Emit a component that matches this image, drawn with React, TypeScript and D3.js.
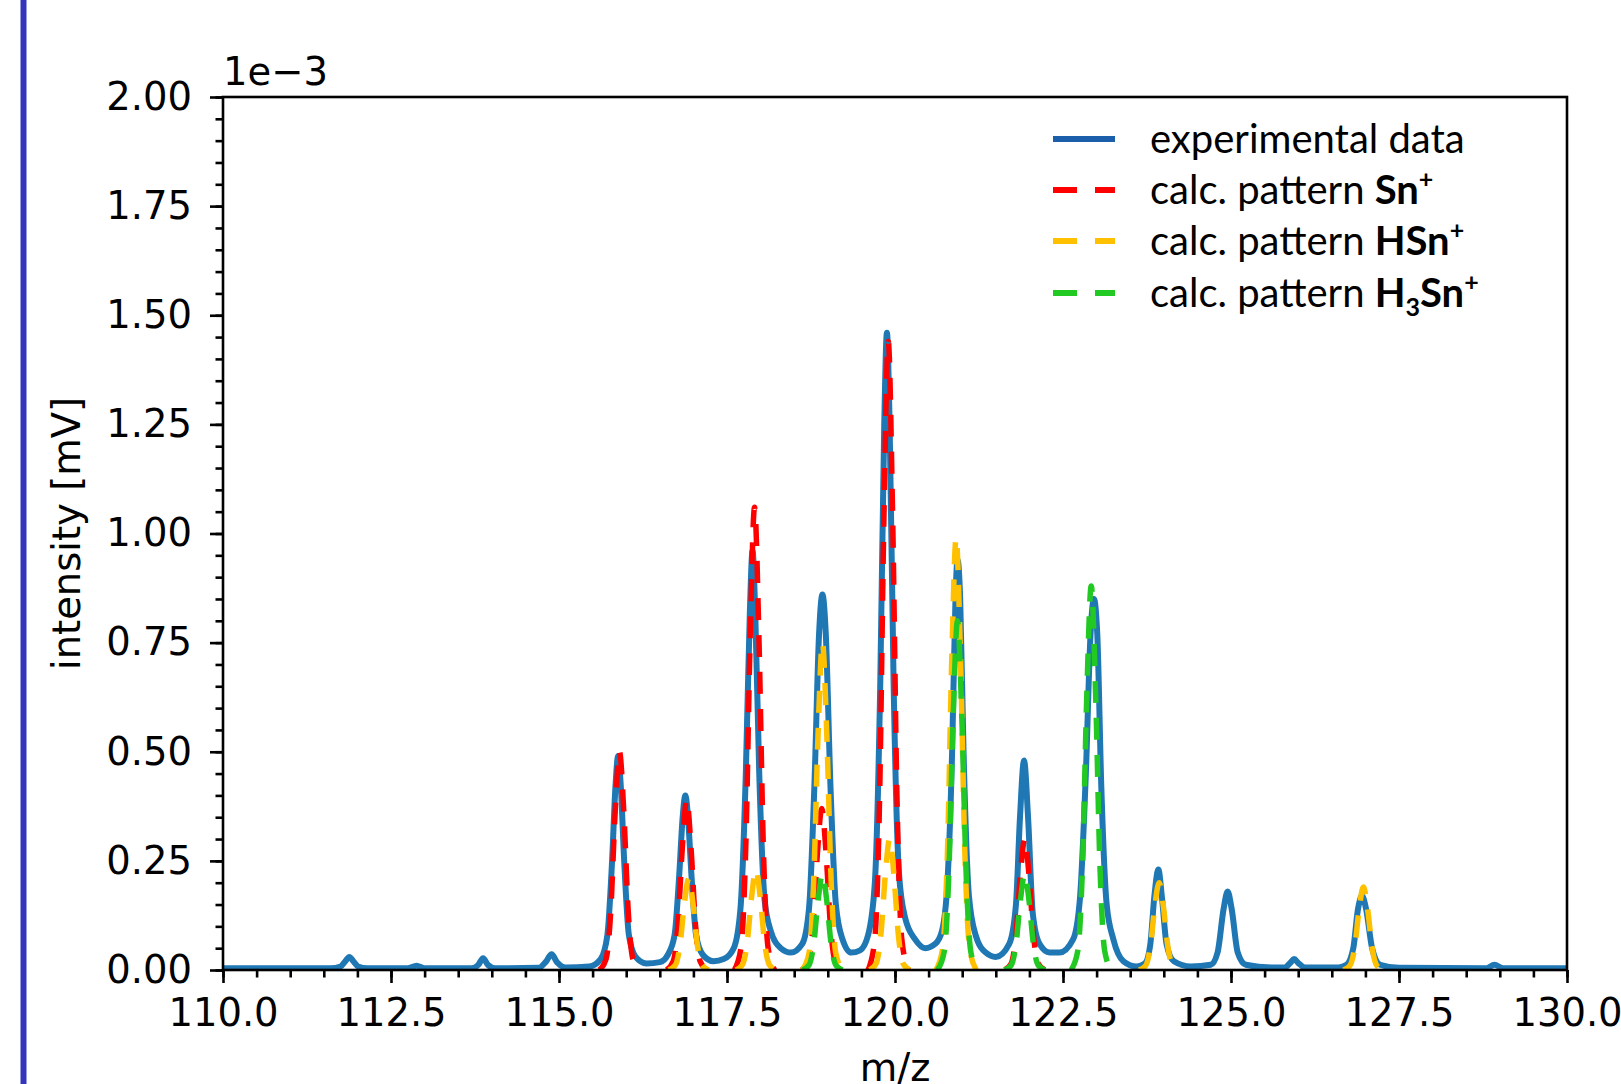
import React, { useEffect, useRef } from 'react'
import * as d3 from 'd3'

// axis settings (m/z, intensity in units of 1e-3 mV)
const xDomain = [110, 130]
const yDomain = [0, 2]
const xTickValues = [110, 112.5, 115, 117.5, 120, 122.5, 125, 127.5, 130]
const yTickValues = [0, 0.25, 0.5, 0.75, 1, 1.25, 1.5, 1.75, 2]
const xMinorStep = 0.5
const yMinorStep = 0.05

// experimental spectrum
const experimental: [number, number][] = [
  [110.0, 0.004], [111.6, 0.004], [111.75, 0.008], [111.82, 0.02], [111.88, 0.03], [111.94, 0.02], [112.01, 0.008], [112.15, 0.004],
  [112.75, 0.004], [112.88, 0.01], [113.0, 0.004],
  [113.7, 0.004], [113.8, 0.012], [113.87, 0.027], [113.94, 0.012], [114.05, 0.004],
  [114.7, 0.005], [114.8, 0.018], [114.89, 0.036], [114.97, 0.018], [115.1, 0.006],
  [115.45, 0.008], [115.62, 0.025], [115.72, 0.08], [115.79, 0.25], [115.84, 0.42], [115.88, 0.49], [115.92, 0.42], [115.97, 0.25], [116.04, 0.08], [116.14, 0.03], [116.3, 0.015],
  [116.5, 0.018], [116.62, 0.035], [116.72, 0.08], [116.79, 0.22], [116.84, 0.35], [116.88, 0.40], [116.92, 0.35], [116.97, 0.22], [117.04, 0.08], [117.14, 0.035], [117.3, 0.02],
  [117.45, 0.025], [117.6, 0.05], [117.7, 0.14], [117.78, 0.45], [117.84, 0.82], [117.88, 0.96], [117.92, 0.82], [117.98, 0.45], [118.06, 0.16], [118.15, 0.09], [118.3, 0.05],
  [118.45, 0.04], [118.62, 0.06], [118.72, 0.14], [118.8, 0.42], [118.87, 0.77], [118.92, 0.86], [118.97, 0.77], [119.04, 0.42], [119.12, 0.15], [119.22, 0.07], [119.35, 0.04],
  [119.48, 0.045], [119.6, 0.08], [119.7, 0.2], [119.78, 0.65], [119.84, 1.25], [119.88, 1.46], [119.92, 1.25], [119.98, 0.65], [120.06, 0.22], [120.15, 0.12], [120.3, 0.07], [120.45, 0.05],
  [120.6, 0.06], [120.7, 0.09], [120.78, 0.2], [120.85, 0.5], [120.9, 0.85], [120.93, 0.94], [120.97, 0.85], [121.02, 0.5], [121.1, 0.17], [121.2, 0.08], [121.35, 0.04],
  [121.5, 0.03], [121.7, 0.06], [121.8, 0.15], [121.86, 0.35], [121.92, 0.48], [121.98, 0.35], [122.05, 0.13], [122.15, 0.06], [122.3, 0.04],
  [122.45, 0.04], [122.65, 0.07], [122.75, 0.16], [122.84, 0.45], [122.91, 0.77], [122.96, 0.85], [123.01, 0.77], [123.07, 0.42], [123.15, 0.15], [123.25, 0.07], [123.4, 0.02],
  [123.6, 0.008], [123.72, 0.015], [123.8, 0.06], [123.86, 0.17], [123.92, 0.23], [123.97, 0.17], [124.04, 0.06], [124.15, 0.02], [124.4, 0.008],
  [124.7, 0.012], [124.8, 0.04], [124.89, 0.14], [124.95, 0.18], [125.01, 0.14], [125.1, 0.04], [125.22, 0.012], [125.6, 0.006],
  [125.8, 0.006], [125.88, 0.016], [125.94, 0.025], [126.0, 0.016], [126.1, 0.006], [126.6, 0.006],
  [126.72, 0.012], [126.82, 0.05], [126.89, 0.14], [126.95, 0.17], [127.01, 0.14], [127.1, 0.05], [127.22, 0.012], [127.5, 0.005],
  [128.8, 0.004], [128.92, 0.012], [129.05, 0.004], [130.0, 0.004],
]

// calculated isotope patterns, one list of points per peak
const snPattern: [number, number][][] = [
  [[115.6, 0], [115.7, 0.025], [115.77, 0.135], [115.835, 0.36], [115.9, 0.5], [115.965, 0.36], [116.03, 0.135], [116.1, 0.025], [116.2, 0]],
  [[116.6, 0], [116.7, 0.02], [116.77, 0.105], [116.835, 0.28], [116.9, 0.39], [116.965, 0.28], [117.03, 0.105], [117.1, 0.02], [117.2, 0]],
  [[117.61, 0], [117.71, 0.053], [117.78, 0.286], [117.845, 0.763], [117.91, 1.06], [117.975, 0.763], [118.04, 0.286], [118.11, 0.053], [118.21, 0]],
  [[118.61, 0], [118.71, 0.019], [118.78, 0.1], [118.845, 0.266], [118.91, 0.37], [118.975, 0.266], [119.04, 0.1], [119.11, 0.019], [119.21, 0]],
  [[119.6, 0], [119.7, 0.072], [119.77, 0.389], [119.835, 1.037], [119.9, 1.44], [119.965, 1.037], [120.03, 0.389], [120.1, 0.072], [120.2, 0]],
  [[121.63, 0], [121.73, 0.015], [121.8, 0.081], [121.865, 0.216], [121.93, 0.3], [121.995, 0.216], [122.06, 0.081], [122.13, 0.015], [122.23, 0]],
]

const hsnPattern: [number, number][][] = [
  [[116.63, 0], [116.73, 0.011], [116.8, 0.057], [116.865, 0.151], [116.93, 0.21], [116.995, 0.151], [117.06, 0.057], [117.13, 0.011], [117.23, 0]],
  [[117.63, 0], [117.73, 0.012], [117.8, 0.062], [117.865, 0.166], [117.93, 0.23], [117.995, 0.166], [118.06, 0.062], [118.13, 0.012], [118.23, 0]],
  [[118.62, 0], [118.72, 0.038], [118.79, 0.203], [118.855, 0.54], [118.92, 0.75], [118.985, 0.54], [119.05, 0.203], [119.12, 0.038], [119.22, 0]],
  [[119.62, 0], [119.72, 0.015], [119.79, 0.081], [119.855, 0.216], [119.92, 0.3], [119.985, 0.216], [120.05, 0.081], [120.12, 0.015], [120.22, 0]],
  [[120.61, 0], [120.71, 0.05], [120.78, 0.267], [120.845, 0.713], [120.91, 0.99], [120.975, 0.713], [121.04, 0.267], [121.11, 0.05], [121.21, 0]],
  [[123.63, 0], [123.73, 0.01], [123.8, 0.054], [123.865, 0.144], [123.93, 0.2], [123.995, 0.144], [124.06, 0.054], [124.13, 0.01], [124.23, 0]],
  [[126.67, 0], [126.77, 0.01], [126.84, 0.051], [126.905, 0.137], [126.97, 0.19], [127.035, 0.137], [127.1, 0.051], [127.17, 0.01], [127.27, 0]],
]

const h3snPattern: [number, number][][] = [
  [[118.62, 0], [118.72, 0.011], [118.79, 0.059], [118.855, 0.158], [118.92, 0.22], [118.985, 0.158], [119.05, 0.059], [119.12, 0.011], [119.22, 0]],
  [[120.63, 0], [120.73, 0.04], [120.8, 0.216], [120.865, 0.576], [120.93, 0.8], [120.995, 0.576], [121.06, 0.216], [121.13, 0.04], [121.23, 0]],
  [[121.63, 0], [121.73, 0.011], [121.8, 0.059], [121.865, 0.158], [121.93, 0.22], [121.995, 0.158], [122.06, 0.059], [122.13, 0.011], [122.23, 0]],
  [[122.62, 0], [122.72, 0.044], [122.79, 0.238], [122.855, 0.634], [122.92, 0.88], [122.985, 0.634], [123.05, 0.238], [123.12, 0.044], [123.22, 0]],
]

const BLUE = '#1f77b4'
const RED = '#ff0000'
const YELLOW = '#ffc000'
const GREEN = '#22c922'
const TICK_FONT = 'DejaVu Sans'
const LEGEND_FONT = 'Lato'

export default function App() {
  const svgRef = useRef<SVGSVGElement | null>(null)

  useEffect(() => {
    if (!svgRef.current) return
    const width = 1621
    const height = 1084
    const margin = { top: 97, right: 54, bottom: 114, left: 223 }

    const svg = d3.select(svgRef.current)
    svg.selectAll('*').remove()

    const x = d3.scaleLinear().domain(xDomain).range([margin.left, width - margin.right])
    const y = d3.scaleLinear().domain(yDomain).range([height - margin.bottom, margin.top])

    svg.append('rect').attr('width', width).attr('height', height).attr('fill', '#fff')

    // blue bar at the left edge of the slide
    svg.append('rect').attr('x', 20.5).attr('y', 0).attr('width', 6).attr('height', height).attr('fill', '#3535bb')

    svg.append('clipPath').attr('id', 'plot-clip')
      .append('rect')
      .attr('x', x(xDomain[0])).attr('y', y(yDomain[1]) - 4)
      .attr('width', x(xDomain[1]) - x(xDomain[0]))
      .attr('height', y(yDomain[0]) - y(yDomain[1]) + 4)

    const plot = svg.append('g').attr('clip-path', 'url(#plot-clip)')

    const line = d3.line<[number, number]>()
      .x(d => x(d[0]))
      .y(d => y(d[1]))
      .curve(d3.curveMonotoneX)

    plot.append('path')
      .datum(experimental)
      .attr('d', line)
      .attr('fill', 'none')
      .attr('stroke', BLUE)
      .attr('stroke-width', 6)
      .attr('stroke-linejoin', 'round')
      .attr('stroke-linecap', 'round')

    const patterns: [string, [number, number][][]][] = [
      [RED, snPattern],
      [YELLOW, hsnPattern],
      [GREEN, h3snPattern],
    ]
    patterns.forEach(([color, peaks]) => {
      plot.append('g')
        .selectAll('path')
        .data(peaks)
        .enter()
        .append('path')
        .attr('d', d => line(d))
        .attr('fill', 'none')
        .attr('stroke', color)
        .attr('stroke-width', 5.5)
        .attr('stroke-dasharray', '22,15')
    })

    // minor ticks
    const xMinor = d3.range(xDomain[0], xDomain[1] + 1e-9, xMinorStep)
    const yMinor = d3.range(yDomain[0], yDomain[1] + 1e-9, yMinorStep)

    const xAxisMinor = svg.append('g')
      .attr('transform', `translate(0,${y(0)})`)
      .call(d3.axisBottom(x).tickValues(xMinor).tickSize(7.5).tickFormat(() => ''))
    const yAxisMinor = svg.append('g')
      .attr('transform', `translate(${x(xDomain[0])},0)`)
      .call(d3.axisLeft(y).tickValues(yMinor).tickSize(7.5).tickFormat(() => ''))

    const xAxis = svg.append('g')
      .attr('transform', `translate(0,${y(0)})`)
      .call(d3.axisBottom(x).tickValues(xTickValues).tickSize(13).tickPadding(16).tickFormat(d3.format('.1f')))
    const yAxis = svg.append('g')
      .attr('transform', `translate(${x(xDomain[0])},0)`)
      .call(d3.axisLeft(y).tickValues(yTickValues).tickSize(13).tickPadding(18).tickFormat(d3.format('.2f')))

    ;[xAxisMinor, yAxisMinor, xAxis, yAxis].forEach(g => {
      g.select('.domain').remove()
      g.selectAll('line').attr('stroke', '#000').attr('stroke-width', 2.6)
      g.selectAll('text')
        .attr('font-family', TICK_FONT)
        .attr('font-size', 38.5)
        .attr('fill', '#000')
    })

    // frame
    svg.append('rect')
      .attr('x', x(xDomain[0])).attr('y', y(yDomain[1]))
      .attr('width', x(xDomain[1]) - x(xDomain[0]))
      .attr('height', y(yDomain[0]) - y(yDomain[1]))
      .attr('fill', 'none')
      .attr('stroke', '#000')
      .attr('stroke-width', 2.6)

    // offset text and axis labels
    svg.append('text')
      .attr('x', x(xDomain[0]))
      .attr('y', 85)
      .attr('font-family', TICK_FONT)
      .attr('font-size', 38.5)
      .text('1e\u22123')

    svg.append('text')
      .attr('x', (x(xDomain[0]) + x(xDomain[1])) / 2)
      .attr('y', 1081)
      .attr('text-anchor', 'middle')
      .attr('font-family', TICK_FONT)
      .attr('font-size', 38.5)
      .text('m/z')

    svg.append('text')
      .attr('transform', `translate(80,${(y(0) + y(2)) / 2}) rotate(-90)`)
      .attr('text-anchor', 'middle')
      .attr('font-family', TICK_FONT)
      .attr('font-size', 38.5)
      .text('intensity [mV]')

    // legend
    const legend = svg.append('g').attr('transform', 'translate(1053,0)')
    const rows = [
      { color: '#1b5faa', dash: null, y: 139, label: [['experimental data', 'normal']] },
      { color: RED, dash: '24,18', y: 190, label: [['calc. pattern ', 'normal'], ['Sn', 'bold'], ['+', 'sup']] },
      { color: YELLOW, dash: '24,18', y: 241, label: [['calc. pattern ', 'normal'], ['HSn', 'bold'], ['+', 'sup']] },
      { color: GREEN, dash: '24,18', y: 293, label: [['calc. pattern ', 'normal'], ['H', 'bold'], ['3', 'sub'], ['Sn', 'bold'], ['+', 'sup']] },
    ]
    rows.forEach(row => {
      legend.append('line')
        .attr('x1', 0).attr('x2', 62)
        .attr('y1', row.y).attr('y2', row.y)
        .attr('stroke', row.color)
        .attr('stroke-width', 6)
        .attr('stroke-dasharray', row.dash)
      const t = legend.append('text')
        .attr('x', 97)
        .attr('y', row.y + 14)
        .attr('font-family', LEGEND_FONT)
        .attr('font-size', 40)
        .attr('fill', '#000')
      let shift = 0
      row.label.forEach(([s, kind]) => {
        const span = t.append('tspan').text(s)
        let target = 0
        if (kind === 'bold') span.attr('font-weight', 'bold')
        if (kind === 'sup') { span.attr('font-weight', 'bold').attr('font-size', 25); target = -16 }
        if (kind === 'sub') { span.attr('font-weight', 'bold').attr('font-size', 25); target = 9 }
        span.attr('dy', target - shift)
        shift = target
      })
    })
  }, [])

  return (
    <svg
      ref={svgRef}
      width={1621}
      height={1084}
      style={{ position: 'absolute', left: 0, top: 0, display: 'block' }}
    />
  )
}
